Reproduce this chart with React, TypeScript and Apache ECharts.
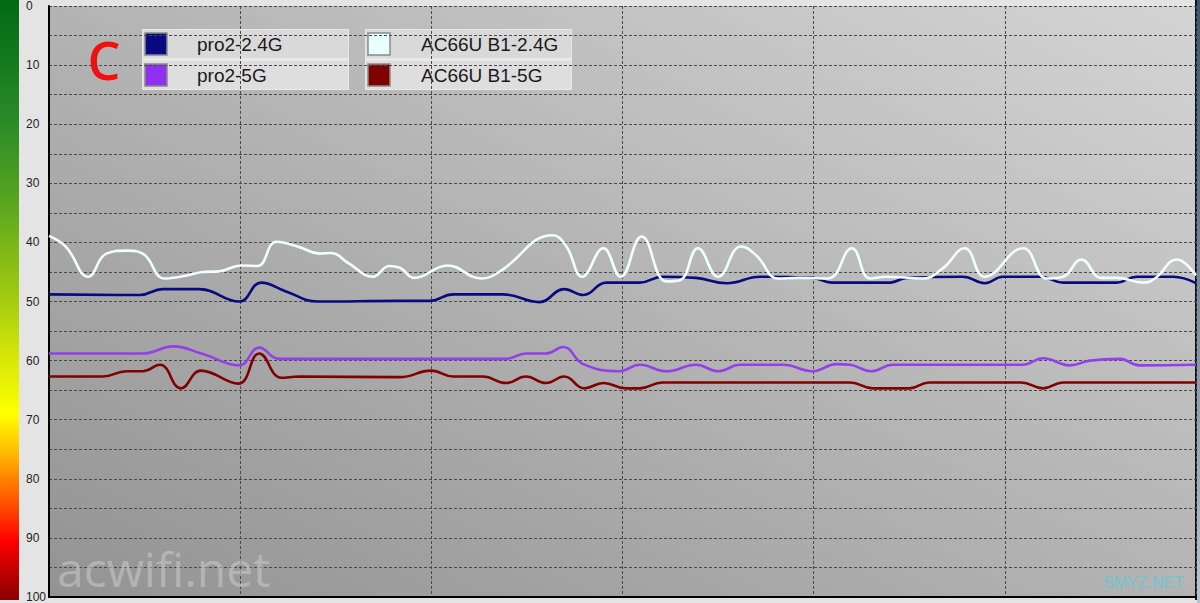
import React, { useEffect, useRef } from "react";
import * as echarts from "echarts";

// [time, value] samples
const pro24: [number, number][] = [
  [0, 48.8], [9.5, 48.9], [11.9, 47.9], [15.7, 47.9], [19.9, 50], [22.2, 46.8], [24.8, 48.3],
  [28.1, 50], [36.7, 49.9], [39.8, 49.9], [42.3, 48.8], [47.5, 48.8], [51.3, 50.1], [53.9, 47.9],
  [55.9, 48.9], [58.3, 46.8], [61.8, 46.8], [64.2, 45.8], [67.7, 46], [70.9, 46.9], [74.4, 45.8],
  [79.9, 46], [81.9, 46.8], [88.0, 46.8], [89.7, 46], [95.6, 45.8], [97.9, 46.9], [99.8, 45.8],
  [103.7, 45.8], [106.1, 46.8], [111.7, 46.8], [113.8, 45.8], [117.6, 45.8], [120, 46.9],
];
const pro5: [number, number][] = [
  [0, 58.8], [9.8, 58.8], [13.0, 57.6], [16.1, 58.9], [19.9, 60.8], [22.0, 57.8], [24.1, 59.7],
  [47.8, 59.7], [49.9, 58.8], [52.0, 58.8], [53.8, 57.7], [55.9, 60.6], [59.7, 61.8], [61.8, 60.7],
  [64.6, 61.8], [67.7, 60.7], [70.0, 61.8], [72.3, 60.7], [76.8, 60.7], [79.9, 61.8], [82.4, 60.6],
  [83.8, 60.7], [86.0, 61.8], [88.3, 60.7], [101.9, 60.7], [104.0, 59.6], [106.8, 60.8],
  [108.9, 60], [112.0, 59.7], [114.1, 60.8], [120, 60.7],
];
const ac24: [number, number][] = [
  [0, 38.9], [1.8, 40.8], [4.1, 45.8], [6.0, 41.9], [8.1, 41.4], [9.8, 41.9], [12.1, 46.1],
  [14.4, 45.6], [16.1, 45], [17.8, 44.9], [20.1, 43.9], [21.8, 44], [23.8, 39.9], [26.2, 40.8],
  [28.3, 41.9], [29.5, 41.8], [31.4, 43.6], [33.9, 45.8], [35.6, 44], [36.7, 44.3], [38.2, 46],
  [41.7, 43.9], [45.2, 46.1], [47.1, 45], [52.7, 38.8], [54.1, 40.6], [55.8, 45.8], [58.0, 41],
  [59.8, 45.8], [62.0, 39], [64.6, 46.6], [66.0, 46.4], [67.9, 41], [70.0, 45.8], [72.4, 40.7],
  [74.0, 42.2], [76.3, 46.1], [78.5, 46], [81.5, 46.1], [84.0, 41], [85.9, 46.1], [87.6, 45.8],
  [91.4, 46.1], [93.5, 44.4], [95.8, 41], [97.9, 45.8], [101.9, 41], [104.4, 46.1], [106.1, 45.8],
  [108.0, 42.9], [110.1, 46], [111.7, 46], [114.5, 46.8], [115.7, 46.1], [118.0, 42.9], [120, 45.6],
];
const ac5: [number, number][] = [
  [0, 62.7], [5.6, 62.7], [8.1, 61.8], [9.8, 61.8], [11.6, 60.7], [13.8, 64.7], [15.9, 61.7],
  [19.8, 63.9], [22.0, 58.8], [24.3, 62.9], [26.2, 62.7], [36.7, 62.8], [40.0, 61.7], [42.3, 62.7],
  [45.4, 62.7], [47.8, 63.8], [49.9, 62.7], [52.0, 63.8], [53.9, 62.7], [56.0, 64.7], [58.0, 63.8],
  [60.4, 64.7], [61.8, 64.7], [64.2, 63.7], [83.8, 63.7], [86.2, 64.7], [90.0, 64.7], [92.1, 63.7],
  [101.7, 63.7], [104.0, 64.7], [106.1, 63.7], [120, 63.7],
];

const seriesNames = ["pro2-2.4G", "pro2-5G", "AC66U B1-2.4G", "AC66U B1-5G"];
const seriesColors = ["#0a0a80", "#9440e8", "#f0ffff", "#800000"];
const swatchColors = ["#0a0a80", "#9030f0", "#e8ffff", "#800000"];
const yTicks = { min: 0, max: 100, interval: 10 };
const xTicks = { min: 0, max: 120, interval: 20 };

export default function App() {
  const ref = useRef<HTMLDivElement>(null);
  useEffect(() => {
    document.body.style.margin = "0";
    const chart = echarts.init(ref.current!, null, { renderer: "svg" });
    const dash = { color: "#4a4a4a", type: [3, 2] as any, width: 1 };
    const legendItem = (bx: number, by: number, idx: number, textX: number) => [
      {
        type: "rect",
        shape: { x: bx, y: by, width: 22, height: 22 },
        style: { fill: swatchColors[idx], stroke: "#8a8a8a", lineWidth: 1.5 },
      },
      {
        type: "text",
        x: textX,
        y: by + 11,
        style: {
          text: seriesNames[idx],
          fill: "#1a1a1a",
          font: '19px "Liberation Sans", Arial, sans-serif',
          textVerticalAlign: "middle",
          verticalAlign: "middle",
        },
      },
    ];
    const legendBox = (x: number, a: number, b: number, textX: number) => [
      { type: "rect", shape: { x, y: 29, width: 207, height: 61 }, style: { fill: "#e8e8e8" } },
      { type: "rect", shape: { x: x + 1, y: 30, width: 205, height: 28 }, style: { fill: "#d9d9d9" } },
      { type: "rect", shape: { x: x + 1, y: 61, width: 205, height: 28 }, style: { fill: "#dedede" } },
      ...legendItem(x + 3, 33, a, textX),
      ...legendItem(x + 3, 64, b, textX),
    ];
    const mk = (name: string, data: [number, number][], color: string) => ({
      name,
      type: "line",
      data,
      smooth: 0.45,
      showSymbol: false,
      symbol: "none",
      lineStyle: { color, width: 2.6 },
      itemStyle: { color },
    });
    chart.setOption({
      animation: false,
      backgroundColor: "#e4e4e4",
      grid: {
        left: 49,
        right: 4,
        top: 0,
        bottom: 3,
        show: true,
        borderWidth: 0,
        backgroundColor: new echarts.graphic.LinearGradient(1, 0, 0, 1, [
          { offset: 0, color: "#d4d4d4" },
          { offset: 1, color: "#939393" },
        ]),
      },
      legend: { show: false, data: seriesNames },
      xAxis: {
        type: "value",
        ...xTicks,
        axisLabel: { show: false },
        axisTick: { show: false },
        axisLine: { show: true, onZero: false, lineStyle: { color: "#000", width: 2 } },
        splitLine: { show: true, lineStyle: dash },
      },
      yAxis: {
        type: "value",
        inverse: true,
        ...yTicks,
        axisLine: { show: true, lineStyle: { color: "#000", width: 2 } },
        axisTick: { show: false },
        axisLabel: {
          color: "#222",
          fontSize: 12,
          fontFamily: '"Liberation Sans", Arial, sans-serif',
          align: "left",
          verticalAlign: "middle",
          padding: [0, 0, 5, 0],
          margin: 23,
        },
        splitLine: { show: true, lineStyle: dash },
        minorTick: { show: false, splitNumber: 2 },
        minorSplitLine: { show: true, lineStyle: dash },
      },
      series: [
        mk(seriesNames[0], pro24, seriesColors[0]),
        mk(seriesNames[1], pro5, seriesColors[1]),
        mk(seriesNames[3], ac5, seriesColors[3]),
        mk(seriesNames[2], ac24, seriesColors[2]),
      ],
      graphic: [
        {
          type: "rect",
          shape: { x: 0, y: 0, width: 19, height: 600 },
          style: {
            fill: new echarts.graphic.LinearGradient(0, 0, 0, 1, [
              { offset: 0, color: "#006a14" },
              { offset: 0.2, color: "#2a8a28" },
              { offset: 0.33, color: "#56a420" },
              { offset: 0.5, color: "#a4cc10" },
              { offset: 0.6, color: "#d8e808" },
              { offset: 0.69, color: "#ffff00" },
              { offset: 0.75, color: "#ffc000" },
              { offset: 0.8, color: "#ff8000" },
              { offset: 0.86, color: "#ff3800" },
              { offset: 0.9, color: "#ff0000" },
              { offset: 1, color: "#880000" },
            ]),
          },
        },
        {
          type: "rect",
          shape: { x: 1195, y: 0, width: 2, height: 600 },
          style: { fill: "#111" },
        },
        {
          type: "rect",
          shape: { x: 1197, y: 0, width: 3, height: 603 },
          style: {
            fill: new echarts.graphic.LinearGradient(0, 0, 0, 1, [
              { offset: 0, color: "#3a5674" },
              { offset: 1, color: "#b8c4d0" },
            ]),
          },
        },
        ...legendBox(142, 0, 1, 197),
        ...legendBox(365, 2, 3, 421),
        {
          type: "text",
          x: 104,
          y: 59,
          style: {
            text: "C",
            fill: "#f01010",
            font: '600 52px "Open Sans", sans-serif',
            textAlign: "center",
            align: "center",
            textVerticalAlign: "middle",
            verticalAlign: "middle",
          },
        },
        {
          type: "text",
          x: 57,
          y: 568,
          z: 10,
          style: {
            text: "acwifi.net",
            fill: "rgba(205,205,205,0.55)",
            font: '48px "Open Sans", sans-serif',
            verticalAlign: "middle",
            textVerticalAlign: "middle",
            shadowColor: "rgba(0,0,0,0.25)",
            shadowBlur: 3,
            shadowOffsetX: 2,
            shadowOffsetY: 2,
          },
        },
        {
          type: "text",
          x: 1103,
          y: 582,
          z: 10,
          style: {
            text: "SMYZ.NET",
            fill: "rgba(95,200,215,0.8)",
            font: '16px "Liberation Sans", Arial, sans-serif',
            verticalAlign: "middle",
            textVerticalAlign: "middle",
          },
        },
      ],
    });
    return () => chart.dispose();
  }, []);
  return <div ref={ref} style={{ position: "fixed", left: 0, top: 0, width: 1200, height: 603 }} />;
}
